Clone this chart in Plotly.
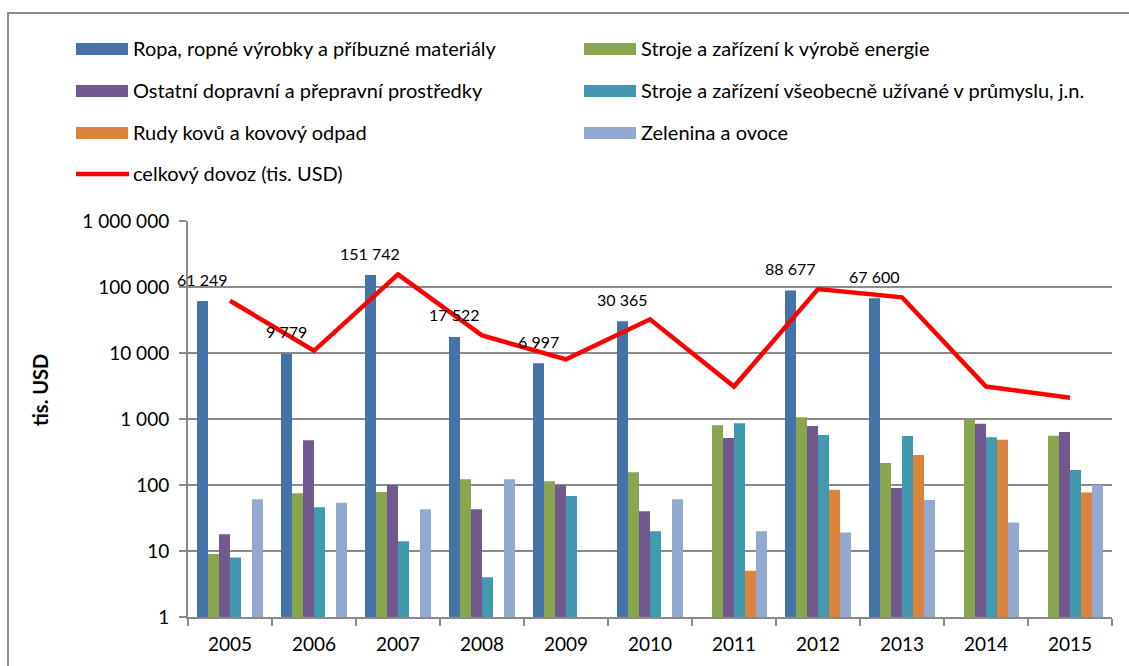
import numpy as np
import plotly.graph_objects as go

# Categories
years = ["2005", "2006", "2007", "2008", "2009", "2010",
         "2011", "2012", "2013", "2014", "2015"]

# Commodity groups (tis. USD); None = no import that year
ropa = [61249, 9779, 151742, 17522, 6997, 30365, None, 88677, 67600, None, None]
stroje_energie = [9, 75, 78, 122, 114, 156, 802, 1060, 215, 977, 558]
ostatni_doprava = [18, 476, 100, 43, 100, 40, 515, 783, 90, 849, 635]
stroje_prumysl = [8, 46, 14, 4, 68, 20, 860, 572, 553, 527, 169]
rudy_kovu = [None, None, None, None, None, None, 5, 85, 285, 486, 77]
zelenina_ovoce = [61, 54, 43, 122, None, 61, 20, 19, 59, 27, 100]

# Total import (tis. USD)
celkovy_dovoz = [62000, 10800, 155000, 18500, 8000, 32400, 3100, 93000, 69800, 3100, 2100]

# Axis tick labels
y_tickvals = [1, 10, 100, 1000, 10000, 100000, 1000000]
y_ticktext = ["1", "10", "100", "1 000", "10 000", "100 000", "1 000 000"]

series = [
    ("Ropa, ropné výrobky a příbuzné materiály", ropa, "#4572A7"),
    ("Stroje a zařízení k výrobě energie", stroje_energie, "#89A54E"),
    ("Ostatní dopravní a přepravní prostředky", ostatni_doprava, "#71588F"),
    ("Stroje a zařízení všeobecně užívané v průmyslu, j.n.", stroje_prumysl, "#4198AF"),
    ("Rudy kovů a kovový odpad", rudy_kovu, "#DB843D"),
    ("Zelenina a ovoce", zelenina_ovoce, "#93A9CF"),
]
line_name = "celkový dovoz (tis. USD)"
line_color = "#FF0000"

FONT = "Lato"
GRID = "#8a8a8a"

W, H = 1129, 666
ML, MR, MT, MB = 188, 17, 221, 49
PW, PH = W - ML - MR, H - MT - MB
BARGAP = 0.214


def px(x):
    return (x - ML) / PW


def py(y):
    return (H - MB - y) / PH


fig = go.Figure()

for name, vals, color in series:
    fig.add_trace(go.Bar(
        x=years, y=vals, name=name,
        marker=dict(color=color, line=dict(width=0)),
        showlegend=False,
    ))

fig.add_trace(go.Scatter(
    x=years, y=celkovy_dovoz, name=line_name, mode="lines",
    line=dict(color=line_color, width=4.5),
    showlegend=False,
))

annotations = []

# Value labels above the first series' bars
slot_px = PW / len(years) * (1 - BARGAP) / len(series)
first_offset = -(len(series) - 1) / 2 * slot_px
for i, v in enumerate(ropa):
    if v is None:
        continue
    annotations.append(dict(
        x=i, y=np.log10(v), xref="x", yref="y",
        text=f"{v:,}".replace(",", " "),
        showarrow=False, xshift=first_offset, yshift=22,
        xanchor="center", yanchor="middle",
        font=dict(family=FONT, size=16, color="black"),
    ))

# Legend drawn as swatches and labels in two columns
shapes = []
legend_rows = [49, 91, 133, 174]
col_x = [76, 584]
legend_items = [(s[0], s[2], "bar") for s in series] + [(line_name, line_color, "line")]
for i, (name, color, kind) in enumerate(legend_items):
    r, c = divmod(i, 2)
    x0 = col_x[c]
    yc = legend_rows[r]
    if kind == "bar":
        shapes.append(dict(type="rect", xref="paper", yref="paper",
                           x0=px(x0), x1=px(x0 + 52), y0=py(yc - 6), y1=py(yc + 6),
                           fillcolor=color, line=dict(width=0)))
    else:
        shapes.append(dict(type="line", xref="paper", yref="paper",
                           x0=px(x0), x1=px(x0 + 53), y0=py(yc), y1=py(yc),
                           line=dict(color=color, width=4.5)))
    annotations.append(dict(
        x=px(x0 + 55), y=py(yc - 1), xref="paper", yref="paper",
        text=name, showarrow=False, xanchor="left", yanchor="middle",
        font=dict(family=FONT, size=20, color="black"),
    ))

# Y axis title
annotations.append(dict(
    x=px(40), y=py(390), xref="paper", yref="paper",
    text="<b>tis. USD</b>", showarrow=False, textangle=-90,
    xanchor="center", yanchor="middle",
    font=dict(family=FONT, size=20, color="black"),
))

# Chart area frame (left and top edges)
shapes.append(dict(type="line", xref="paper", yref="paper",
                   x0=px(8), x1=px(8), y0=py(13), y1=py(H + 10),
                   line=dict(color="#8c8c8c", width=2)))
shapes.append(dict(type="line", xref="paper", yref="paper",
                   x0=px(7), x1=px(W + 10), y0=py(13), y1=py(13),
                   line=dict(color="#8c8c8c", width=2)))

fig.update_layout(
    width=W, height=H,
    margin=dict(l=ML, r=MR, t=MT, b=MB),
    paper_bgcolor="white", plot_bgcolor="white",
    barmode="group", bargap=BARGAP, bargroupgap=0,
    showlegend=False,
    font=dict(family=FONT, color="black"),
    annotations=annotations,
    shapes=shapes,
)

fig.update_xaxes(
    type="category", range=[-0.5, len(years) - 0.5], showgrid=False,
    showline=True, linecolor=GRID, linewidth=2,
    ticks="outside", tickson="boundaries", ticklen=7, tickcolor=GRID, tickwidth=2,
    tickangle=0, ticklabelstandoff=9,
    tickfont=dict(family=FONT, size=19, color="black"),
)

fig.update_yaxes(
    type="log", range=[0, 6],
    tickvals=y_tickvals, ticktext=y_ticktext,
    showgrid=True, gridcolor=GRID, gridwidth=2,
    showline=True, linecolor=GRID, linewidth=2,
    ticks="outside", ticklen=7, tickcolor=GRID, tickwidth=2,
    ticklabelstandoff=6,
    tickfont=dict(family=FONT, size=19, color="black"),
    zeroline=False,
)

fig.write_html("out.html")
